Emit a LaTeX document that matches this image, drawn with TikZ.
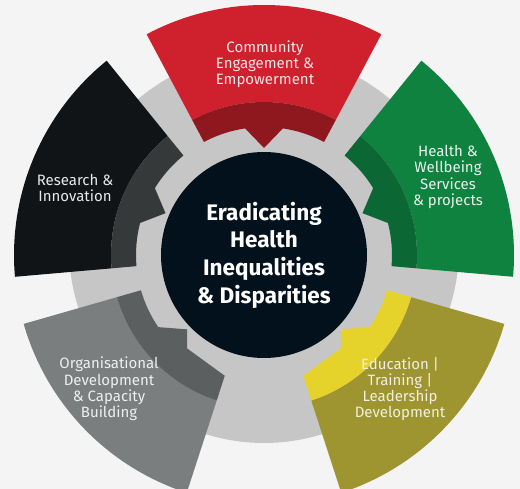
\documentclass[tikz,border=0pt]{standalone}
\usepackage{fontspec}
\setmainfont{Fira Sans}
\definecolor{bgc}{HTML}{F4F4F4}
\definecolor{ringc}{HTML}{C6C6C6}
\definecolor{corec}{HTML}{03111C}
\definecolor{redm}{HTML}{CF202E}
\definecolor{redb}{HTML}{8F171E}
\definecolor{grnm}{HTML}{0F8240}
\definecolor{grnb}{HTML}{0B6734}
\definecolor{blkm}{HTML}{111416}
\definecolor{blkb}{HTML}{36393A}
\definecolor{grym}{HTML}{7B7E7E}
\definecolor{gryb}{HTML}{5B5F5F}
\definecolor{olvm}{HTML}{9E9530}
\definecolor{olvb}{HTML}{E5D22A}
\newcommand\segbody[2]{%
  \pgfmathsetmacro\A{90-#1}%
  \fill[#2] ({\A+28}:250) arc[start angle={\A+28},end angle={\A-28},radius=250]
    -- ({\A-28}:153) arc[start angle={\A-28},end angle={\A+28},radius=153] -- cycle;}
\newcommand\segband[2]{%
  \pgfmathsetmacro\A{90-#1}%
  \fill[#2] ({\A+28}:153) arc[start angle={\A+28},end angle={\A-28},radius=153]
    -- ({\A-28}:128) arc[start angle={\A-28},end angle={\A-8.5},radius=128]
    -- (\A:107) -- ({\A+8.5}:128)
    arc[start angle={\A+8.5},end angle={\A+28},radius=128] -- cycle;}
\tikzset{
  lbl/.style={align=center,font=\fontsize{15}{16.2}\selectfont,inner sep=0pt},
  coretext/.style={align=center,text=white,font=\fontsize{22.5}{27.7}\selectfont\bfseries,inner sep=0pt}
}
\begin{document}
\begin{tikzpicture}[x=1pt,y=1pt]
\useasboundingbox (0,0) rectangle (520,-489);
\fill[bgc] (0,0) rectangle (520,-489);
\coordinate (O) at (264,-255);
\fill[ringc] (264,-248) circle (195);
\fill[corec] (O) circle (103);
\begin{scope}[shift={(264,-255)}]
  % red (top)
  \segbody{0}{redm}\segband{0}{redb}
  % green
  \segbody{67}{grnm}\segband{67}{grnb}
  % black
  \segbody{-67}{blkm}\segband{-67}{blkb}
  % olive
  \segbody{134}{olvm}
  \fill[olvb] (-16:153) arc[start angle=-16,end angle=-72,radius=153]
    -- (-72:127) -- (-50.5:121) -- (-44:107) -- (-34.3:128)
    arc[start angle=-34.3,end angle=-16,radius=128] -- cycle;
  % gray
  \segbody{-134}{grym}
  \fill[gryb] (252:153) arc[start angle=252,end angle=196,radius=153]
    -- (196:128) arc[start angle=196,end angle=214.3,radius=128]
    -- (224:107) -- (230.5:121) -- (252:127) -- cycle;
\end{scope}
\node[coretext] (core) at (O) {Eradicating\\Health\\Inequalities\\\& Disparities};
\node[lbl,text=white!88!redm] (tred) at (265,-64) {Community\\Engagement \&\\Empowerment};
\node[lbl,text=white!90!grnm] (tgrn) at (448,-177) {Health \&\\Wellbeing\\Services\\\& projects};
\node[lbl,text=white!90!blkm] (tblk) at (75,-188) {Research \&\\Innovation};
\node[lbl,text=white!88!grym] (tgry) at (109,-389) {Organisational\\Development\\\& Capacity\\Building};
\node[lbl,text=white!85!olvm] (tolv) at (400,-389) {Education |\\Training |\\Leadership\\Development};
\end{tikzpicture}
\end{document}
